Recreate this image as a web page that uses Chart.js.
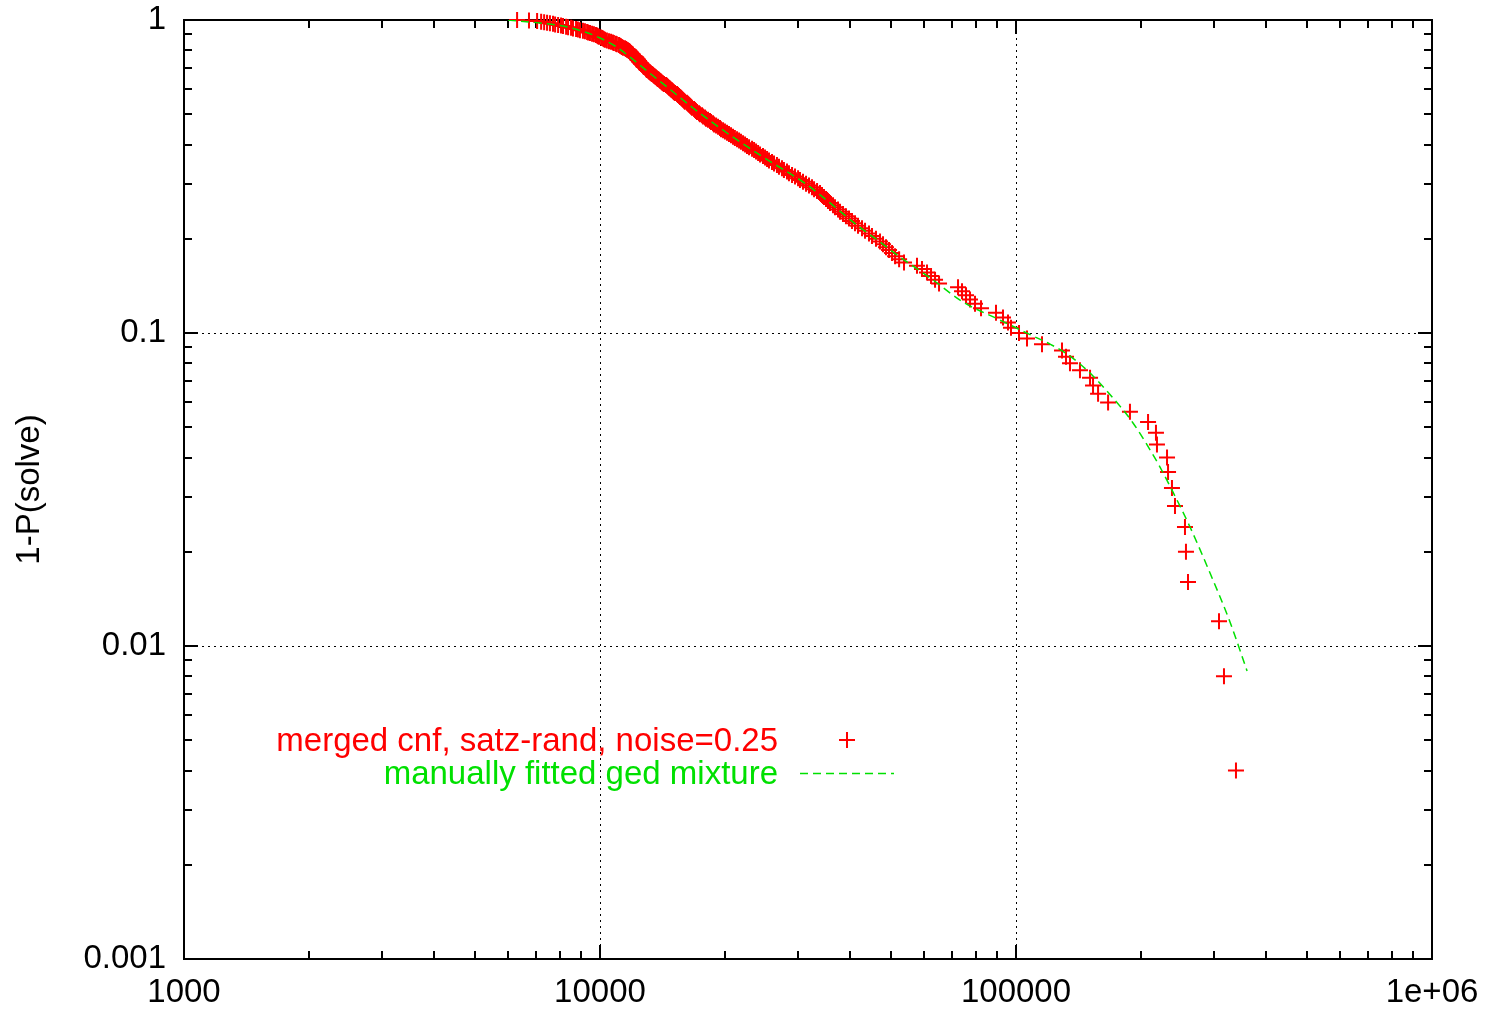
<!DOCTYPE html>
<html>
<head>
<meta charset="utf-8">
<title>1-P(solve)</title>
<script src="https://cdn.jsdelivr.net/npm/chart.js@4.4.1/dist/chart.umd.min.js"></script>
<style>
  html, body { margin: 0; padding: 0; background: #fff; }
  #wrap { width: 1485px; height: 1010px; }
</style>
</head>
<body>
<div id="wrap"><canvas id="plot" width="1485" height="1010"></canvas></div>
<script>
// run times (sorted) of the merged cnf runs
const runTimes = [
    6320, 6750, 7060, 7220, 7340, 7460, 7580, 7710, 7800, 7930,
    8060, 8150, 8290, 8380, 8520, 8610, 8760, 8850, 8950, 9100,
    9200, 9310, 9360, 9460, 9570, 9670, 9780, 9840, 9890, 9950,
    10060, 10110, 10170, 10220, 10280, 10390, 10510, 10630, 10740, 10800,
    10920, 10980, 11110, 11170, 11230, 11290, 11360, 11480, 11550, 11610,
    11680, 11740, 11810, 11820, 11870, 11940, 12000, 12010, 12070, 12140,
    12210, 12220, 12270, 12340, 12350, 12410, 12420, 12480, 12550, 12560,
    12620, 12690, 12700, 12760, 12830, 12900, 12910, 12970, 13050, 13120,
    13190, 13260, 13330, 13410, 13480, 13560, 13630, 13710, 13780, 13860,
    13940, 14020, 14090, 14170, 14250, 14410, 14490, 14570, 14650, 14730,
    14810, 14900, 14980, 15060, 15150, 15320, 15400, 15490, 15570, 15660,
    15740, 15830, 15920, 16000, 16180, 16270, 16360, 16460, 16550, 16640,
    16830, 16920, 17010, 17110, 17300, 17390, 17590, 17690, 17880, 17980,
    18180, 18380, 18490, 18690, 18800, 19010, 19220, 19430, 19540, 19760,
    19970, 20200, 20420, 20650, 20880, 21100, 21350, 21590, 21820, 22070,
    22320, 22560, 22820, 23200, 23460, 23720, 23990, 24250, 24650, 24930,
    25210, 25480, 25910, 26200, 26630, 26930, 27380, 27680, 28150, 28460,
    28950, 29430, 29930, 30250, 30760, 31280, 31800, 32330, 32700, 33250,
    33800, 34170, 34550, 34940, 35320, 35720, 36320, 36720, 37340, 37750,
    38380, 39020, 39680, 40340, 41020, 41710, 42640, 43360, 44320, 45060,
    46070, 47110, 47900, 48700, 49520, 50350, 51200, 52360, 53800, 57810,
    59430, 61100, 62480, 63880, 65310, 72550, 74170, 75830, 77530, 79700,
    82400, 89520, 93060, 95670, 97270, 101680, 106280, 115480, 129000, 131880,
    134830, 142500, 150650, 153170, 157500, 166480, 187900, 207700, 217000, 218200,
    230700, 232000, 237100, 241100, 254800, 256200, 259100, 307600, 316200, 337900
];

const fitX = [6010, 7174, 8149, 9203, 10000, 10866, 11806, 12972, 14496, 16736,
    20202, 24651, 31277, 35718, 41703, 46070, 52621, 63180, 74580, 91529,
    109870, 120700, 132640, 142500, 153150, 164600, 177800, 191100, 205300, 221900,
    238500, 262000, 292700, 326900, 359300];
const fitY = [1.0, 0.978, 0.9568, 0.9155, 0.8761, 0.8259, 0.7616, 0.6873, 0.6108, 0.5235,
    0.4355, 0.3649, 0.2992, 0.2603, 0.2197, 0.1997, 0.1749, 0.1477, 0.1256, 0.1100,
    0.0978, 0.0922, 0.0857, 0.0796, 0.0729, 0.0657, 0.0584, 0.0516, 0.0445, 0.0373,
    0.0310, 0.0240, 0.0171, 0.01193, 0.00832];

const seriesLabels = ['merged cnf, satz-rand, noise=0.25', 'manually fitted ged mixture'];
const yTitle = '1-P(solve)';

const xTickValues = [1000, 10000, 100000, 1000000];
const xTickLabels = ['1000', '10000', '100000', '1e+06'];
const yTickValues = [0.001, 0.01, 0.1, 1];
const yTickLabels = ['0.001', '0.01', '0.1', '1'];

const RED = '#ff0000';
const GREEN = '#00e000';
const FONT = '"Liberation Sans", Arial, Helvetica, sans-serif';
const FONT_SIZE = 33;

// fraction of runs still unsolved after each run time
const unsolved = runTimes.map((t, i) => 1 - i / runTimes.length);

const samples = runTimes.map((t, i) => ({ x: t, y: unsolved[i] }));
const fitted = fitX.map((x, i) => ({ x: x, y: fitY[i] }));

function labelFor(values, labels, v) {
    const i = values.findIndex(t => Math.abs(Math.log10(t) - Math.log10(v)) < 1e-6);
    return i < 0 ? '' : labels[i];
}

// minor tick positions 2..9 inside each decade
function minorTicks(lo, hi) {
    const out = [];
    for (let d = lo; d < hi; d *= 10) {
        for (let m = 2; m <= 9; m++) out.push(d * m);
    }
    return out;
}

// gnuplot style frame: dotted grid, border, inward ticks on all four sides
const framePlugin = {
    id: 'frame',
    beforeDatasetsDraw(chart) {
        const { ctx, chartArea: a, scales: { x, y } } = chart;
        ctx.save();

        ctx.strokeStyle = '#000';
        ctx.lineWidth = 1;
        ctx.setLineDash([2, 4]);
        xTickValues.slice(1, -1).forEach(v => {
            const px = Math.round(x.getPixelForValue(v)) + 0.5;
            ctx.beginPath();
            ctx.moveTo(px, a.top);
            ctx.lineTo(px, a.bottom);
            ctx.stroke();
        });
        yTickValues.slice(1, -1).forEach(v => {
            const py = Math.round(y.getPixelForValue(v)) + 0.5;
            ctx.beginPath();
            ctx.moveTo(a.left, py);
            ctx.lineTo(a.right, py);
            ctx.stroke();
        });
        ctx.setLineDash([]);

        ctx.lineWidth = 2;
        const major = 14, minor = 8;
        const xt = xTickValues.map(v => [v, major]).concat(minorTicks(1000, 1000000).map(v => [v, minor]));
        xt.forEach(([v, len]) => {
            const px = Math.round(x.getPixelForValue(v));
            ctx.beginPath();
            ctx.moveTo(px, a.bottom);
            ctx.lineTo(px, a.bottom - len);
            ctx.moveTo(px, a.top);
            ctx.lineTo(px, a.top + len);
            ctx.stroke();
        });
        const yt = yTickValues.map(v => [v, major]).concat(minorTicks(0.001, 1).map(v => [v, minor]));
        yt.forEach(([v, len]) => {
            const py = Math.round(y.getPixelForValue(v));
            ctx.beginPath();
            ctx.moveTo(a.left, py);
            ctx.lineTo(a.left + len, py);
            ctx.moveTo(a.right, py);
            ctx.lineTo(a.right - len, py);
            ctx.stroke();
        });

        ctx.strokeRect(a.left, a.top, a.right - a.left, a.bottom - a.top);
        ctx.restore();
    }
};

// key in the lower left: right aligned text followed by the sample
const keyPlugin = {
    id: 'key',
    afterDatasetsDraw(chart) {
        const ctx = chart.ctx;
        ctx.save();
        ctx.font = FONT_SIZE + 'px ' + FONT;
        ctx.textAlign = 'right';
        ctx.textBaseline = 'middle';

        ctx.fillStyle = RED;
        ctx.fillText(seriesLabels[0], 778, 742);
        ctx.strokeStyle = RED;
        ctx.lineWidth = 2;
        ctx.beginPath();
        ctx.moveTo(839, 740);
        ctx.lineTo(855, 740);
        ctx.moveTo(847, 732);
        ctx.lineTo(847, 748);
        ctx.stroke();

        ctx.fillStyle = GREEN;
        ctx.fillText(seriesLabels[1], 778, 775);
        ctx.strokeStyle = GREEN;
        ctx.lineWidth = 1.5;
        ctx.setLineDash([8, 5]);
        ctx.beginPath();
        ctx.moveTo(800, 773.5);
        ctx.lineTo(894, 773.5);
        ctx.stroke();
        ctx.restore();
    }
};

new Chart(document.getElementById('plot'), {
    type: 'scatter',
    data: {
        datasets: [
            {
                label: seriesLabels[1],
                data: fitted,
                showLine: true,
                borderColor: GREEN,
                borderWidth: 1.5,
                borderDash: [8, 5],
                pointRadius: 0,
                cubicInterpolationMode: 'monotone',
                order: 0
            },
            {
                label: seriesLabels[0],
                data: samples,
                showLine: false,
                pointStyle: 'cross',
                pointRadius: 8,
                pointBorderWidth: 2,
                borderColor: RED,
                backgroundColor: RED,
                clip: false,
                order: 1
            }
        ]
    },
    options: {
        responsive: false,
        animation: false,
        devicePixelRatio: 1,
        layout: { padding: { top: 20, right: 53, bottom: 0, left: 0 } },
        plugins: {
            legend: { display: false },
            tooltip: { enabled: false }
        },
        scales: {
            x: {
                type: 'logarithmic',
                min: 1000,
                max: 1000000,
                grid: { display: false, drawTicks: false },
                border: { display: false },
                afterBuildTicks: scale => { scale.ticks = xTickValues.map(v => ({ value: v })); },
                afterFit: scale => {
                    scale.height = 51;
                    scale.paddingLeft = 0;
                    scale.paddingRight = 0;
                },
                ticks: {
                    autoSkip: false,
                    maxRotation: 0,
                    padding: 14,
                    color: '#000',
                    font: { family: FONT, size: FONT_SIZE },
                    callback: v => labelFor(xTickValues, xTickLabels, v)
                }
            },
            y: {
                type: 'logarithmic',
                min: 0.001,
                max: 1,
                grid: { display: false, drawTicks: false },
                border: { display: false },
                afterBuildTicks: scale => { scale.ticks = yTickValues.map(v => ({ value: v })); },
                afterFit: scale => {
                    scale.width = 184;
                    scale.paddingTop = 0;
                    scale.paddingBottom = 0;
                },
                title: {
                    display: true,
                    text: yTitle,
                    color: '#000',
                    font: { family: FONT, size: FONT_SIZE },
                    padding: { top: 10, bottom: 0 }
                },
                ticks: {
                    autoSkip: false,
                    padding: 18,
                    color: '#000',
                    font: { family: FONT, size: FONT_SIZE },
                    callback: v => labelFor(yTickValues, yTickLabels, v)
                }
            }
        }
    },
    plugins: [framePlugin, keyPlugin]
});
</script>
</body>
</html>
